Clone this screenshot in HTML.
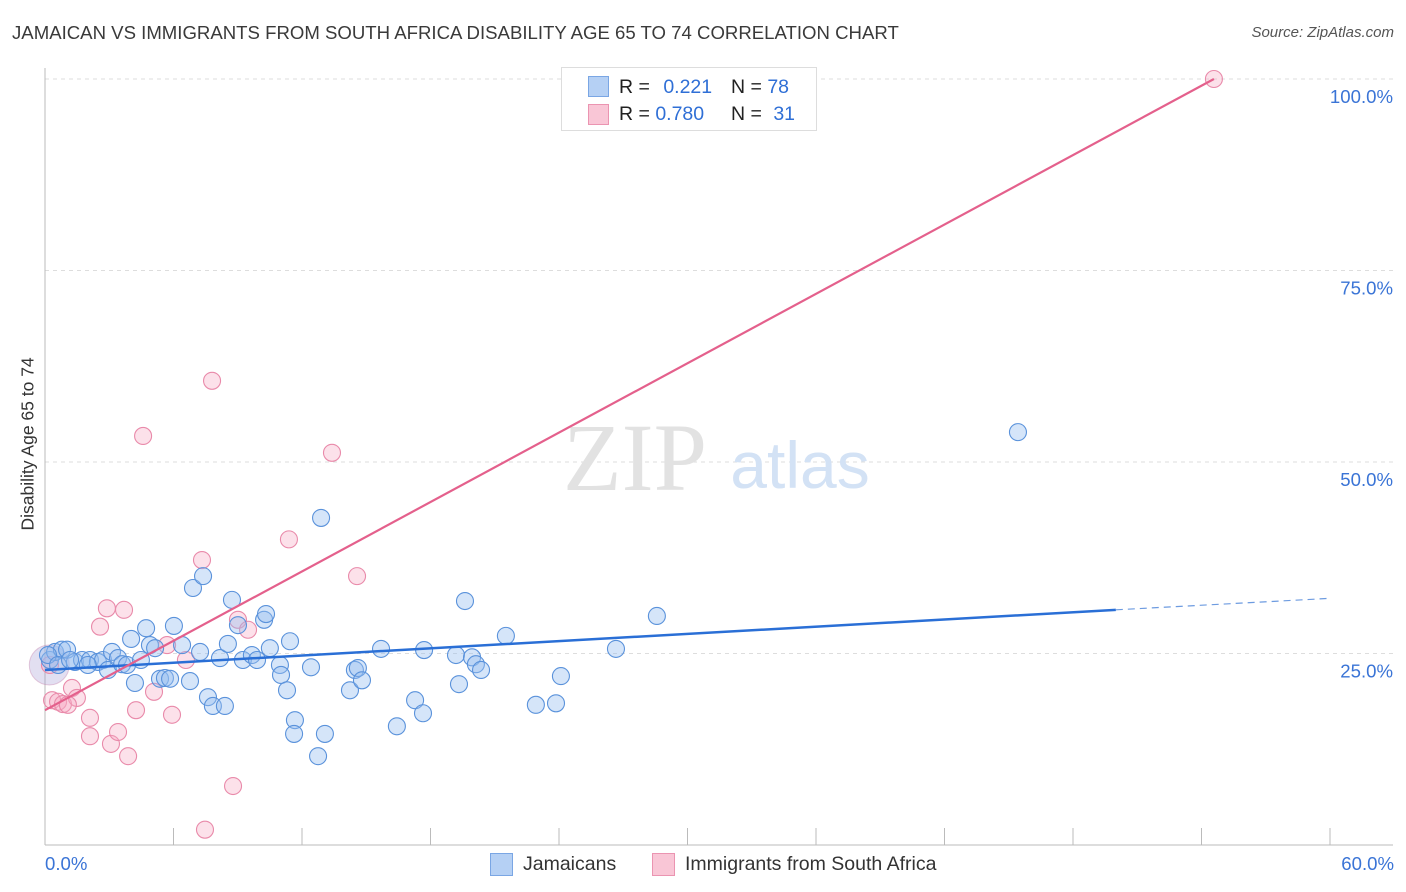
<!DOCTYPE html>
<html><head><meta charset="utf-8"><style>
body{margin:0;background:#fff;font-family:"Liberation Sans",sans-serif;}
#wrap{position:relative;width:1406px;height:892px;overflow:hidden;}
.t{position:absolute;white-space:nowrap;}
</style></head><body>
<div id="wrap">
<div class="t" style="left:12px;top:22px;font-size:18.6px;color:#3a3a3a;">JAMAICAN VS IMMIGRANTS FROM SOUTH AFRICA DISABILITY AGE 65 TO 74 CORRELATION CHART</div>
<div class="t" style="right:12px;top:24px;font-size:15px;color:#555;font-style:italic;">Source: ZipAtlas.com</div>
<svg id="svg" width="1406" height="892" style="position:absolute;left:0;top:0"></svg>
</div>
<script>
const xTicks=[0,6,12,18,24,30,36,42,48,54,60];
const yTicks=[25,50,75,100];
const yTickLabels=["25.0%","50.0%","75.0%","100.0%"];
const blueX=[0.23,0.47,0.79,1.03,1.4,1.73,2.1,2.47,2.71,2.94,3.13,3.41,3.6,3.83,4.02,4.2,4.48,4.72,4.9,5.14,5.37,5.6,5.84,6.02,6.4,6.77,6.91,7.24,7.38,7.61,7.84,8.17,8.4,8.54,8.73,9.01,9.24,9.66,9.9,10.23,10.32,10.5,10.97,11.02,11.3,11.44,11.67,11.63,12.42,12.75,12.89,13.07,14.24,14.47,14.61,14.8,15.69,16.43,17.28,17.65,17.7,19.19,19.33,19.61,19.94,20.12,20.36,21.52,22.92,23.86,24.09,26.66,28.57,45.43,0.14,0.61,1.17,2.0];
const blueY=[24.15,25.2,25.5,25.5,23.9,24.15,24.15,23.9,24.15,22.85,25.2,24.4,23.6,23.5,26.9,21.15,24.15,28.3,26.1,25.7,21.7,21.8,21.7,28.6,26.1,21.4,33.55,25.2,35.1,19.3,18.15,24.4,18.15,26.25,32.0,28.7,24.15,24.8,24.15,29.4,30.15,25.7,23.5,22.2,20.2,26.6,16.3,14.5,23.2,11.6,42.7,14.5,20.2,22.85,23.1,21.5,25.6,15.5,18.9,17.2,25.45,24.8,21.0,31.85,24.5,23.6,22.85,27.3,18.3,18.5,22.05,25.6,29.9,53.9,24.8,23.5,24.15,23.5];
const pinkX=[54.58,0.23,0.33,0.61,0.84,1.26,1.49,2.1,2.1,2.57,2.89,3.08,3.41,3.69,3.88,4.25,4.58,5.09,5.7,5.93,6.58,7.33,7.47,7.8,8.78,9.01,9.48,11.39,13.4,14.57,1.07];
const pinkY=[100,23.5,18.9,18.7,18.4,20.5,19.2,16.6,14.2,28.5,30.9,13.2,14.75,30.7,11.6,17.6,53.4,20.0,26.1,17.0,24.15,37.2,2.0,60.6,7.7,29.4,28.1,39.9,51.2,35.1,18.3];
const blueTrend=[22.85,30.7,32.2]; // y at x=0, x=50 (solid end), x=60
const pinkTrend=[17.6,100]; // y at x=0, x=54.58
const pinkTrendEndX=54.58;
const X=v=>45+v*1285/60;
const Y=v=>845-v*766/100;
const svg=document.getElementById('svg');
const NS='http://www.w3.org/2000/svg';
function mk(tag,attrs){const e=document.createElementNS(NS,tag);for(const k in attrs)e.setAttribute(k,attrs[k]);svg.appendChild(e);return e;}
yTicks.forEach((t,i)=>{
 const g=mk('line',{x1:45,x2:1393,y1:Y(t),y2:Y(t),stroke:'#ddd','stroke-dasharray':'4,4'});
 
 
 const tx=mk('text',{x:1393,y:Y(t)+24,'text-anchor':'end','font-size':18.6,fill:'#3a74d6','font-family':'Liberation Sans, sans-serif'});
 tx.textContent=yTickLabels[i];
 
 
});
const ax=mk('line',{x1:45,x2:45,y1:68,y2:845,stroke:'#bbb'});


const bx=mk('line',{x1:45,x2:1393,y1:845,y2:845,stroke:'#bbb'});


xTicks.forEach(t=>{
 const l=mk('line',{x1:X(t),x2:X(t),y1:828,y2:845,stroke:'#bbb'});
 
 
});
const w1=mk('text',{x:635,y:490,'text-anchor':'middle','font-size':96,fill:'#e2e2e2','font-family':'Liberation Serif, serif'});
w1.textContent='ZIP';


const w2=mk('text',{x:800,y:488,'text-anchor':'middle','font-size':66,fill:'#d3e2f5','font-family':'Liberation Sans, sans-serif'});
w2.textContent='atlas';


const big=mk('circle',{cx:X(0.2),cy:Y(23.5),r:20,fill:'rgba(160,150,210,0.3)',stroke:'rgba(200,140,180,0.45)'});


pinkX.forEach((x,i)=>{
 const c=mk('circle',{cx:X(x),cy:Y(pinkY[i]),r:8.5,fill:'rgba(245,170,195,0.35)',stroke:'#e98aaa','stroke-width':1.1});
 
 
});
blueX.forEach((x,i)=>{
 const c=mk('circle',{cx:X(x),cy:Y(blueY[i]),r:8.5,fill:'rgba(150,190,240,0.4)',stroke:'#5a92db','stroke-width':1.1});
 
 
});
const tb=mk('line',{x1:X(0),y1:Y(blueTrend[0]),x2:X(50),y2:Y(blueTrend[1]),stroke:'#2a6fd6','stroke-width':2.5});


const td=mk('line',{x1:X(50),y1:Y(blueTrend[1]),x2:X(60),y2:Y(blueTrend[2]),stroke:'#6d9be0','stroke-width':1.2,'stroke-dasharray':'7,5'});


const tp=mk('line',{x1:X(0),y1:Y(pinkTrend[0]),x2:X(pinkTrendEndX),y2:Y(pinkTrend[1]),stroke:'#e4608c','stroke-width':2.2});


</script>
<div class="t" style="left:-47px;top:445px;font-size:17.5px;color:#333;transform:rotate(-90deg);width:150px;text-align:center;">Disability Age 65 to 74</div>
<div class="t" style="left:45px;top:853px;font-size:18.6px;color:#3a74d6;">0.0%</div>
<div class="t" style="right:12px;top:853px;font-size:18.6px;color:#3a74d6;">60.0%</div>
<div style="position:absolute;left:561px;top:67px;width:254px;height:62px;border:1px solid #ddd;background:#fff;font-size:19.5px;color:#222;">
 <div style="position:absolute;left:26px;top:8px;width:19px;height:19px;background:#b5d0f4;border:1px solid #7aa6e4;"></div>
 <div class="t" style="left:57px;top:8px;">R = <span style="color:#2f6fd6;margin-left:8px">0.221</span></div>
 <div class="t" style="left:169px;top:8px;">N = <span style="color:#2f6fd6">78</span></div>
 <div style="position:absolute;left:26px;top:36px;width:19px;height:19px;background:#f9c6d6;border:1px solid #eb94b1;"></div>
 <div class="t" style="left:57px;top:35px;">R = <span style="color:#2f6fd6">0.780</span></div>
 <div class="t" style="left:169px;top:35px;">N = <span style="color:#2f6fd6;margin-left:6px">31</span></div>
</div>
<div style="position:absolute;left:490px;top:853px;height:24px;font-size:19.5px;color:#333;">
 <div style="position:absolute;left:0;top:0;width:21px;height:21px;background:#b5d0f4;border:1px solid #7aa6e4;"></div>
 <div class="t" style="left:33px;top:0;">Jamaicans</div>
 <div style="position:absolute;left:162px;top:0;width:21px;height:21px;background:#f9c6d6;border:1px solid #eb94b1;"></div>
 <div class="t" style="left:195px;top:0;">Immigrants from South Africa</div>
</div>
</body></html>
